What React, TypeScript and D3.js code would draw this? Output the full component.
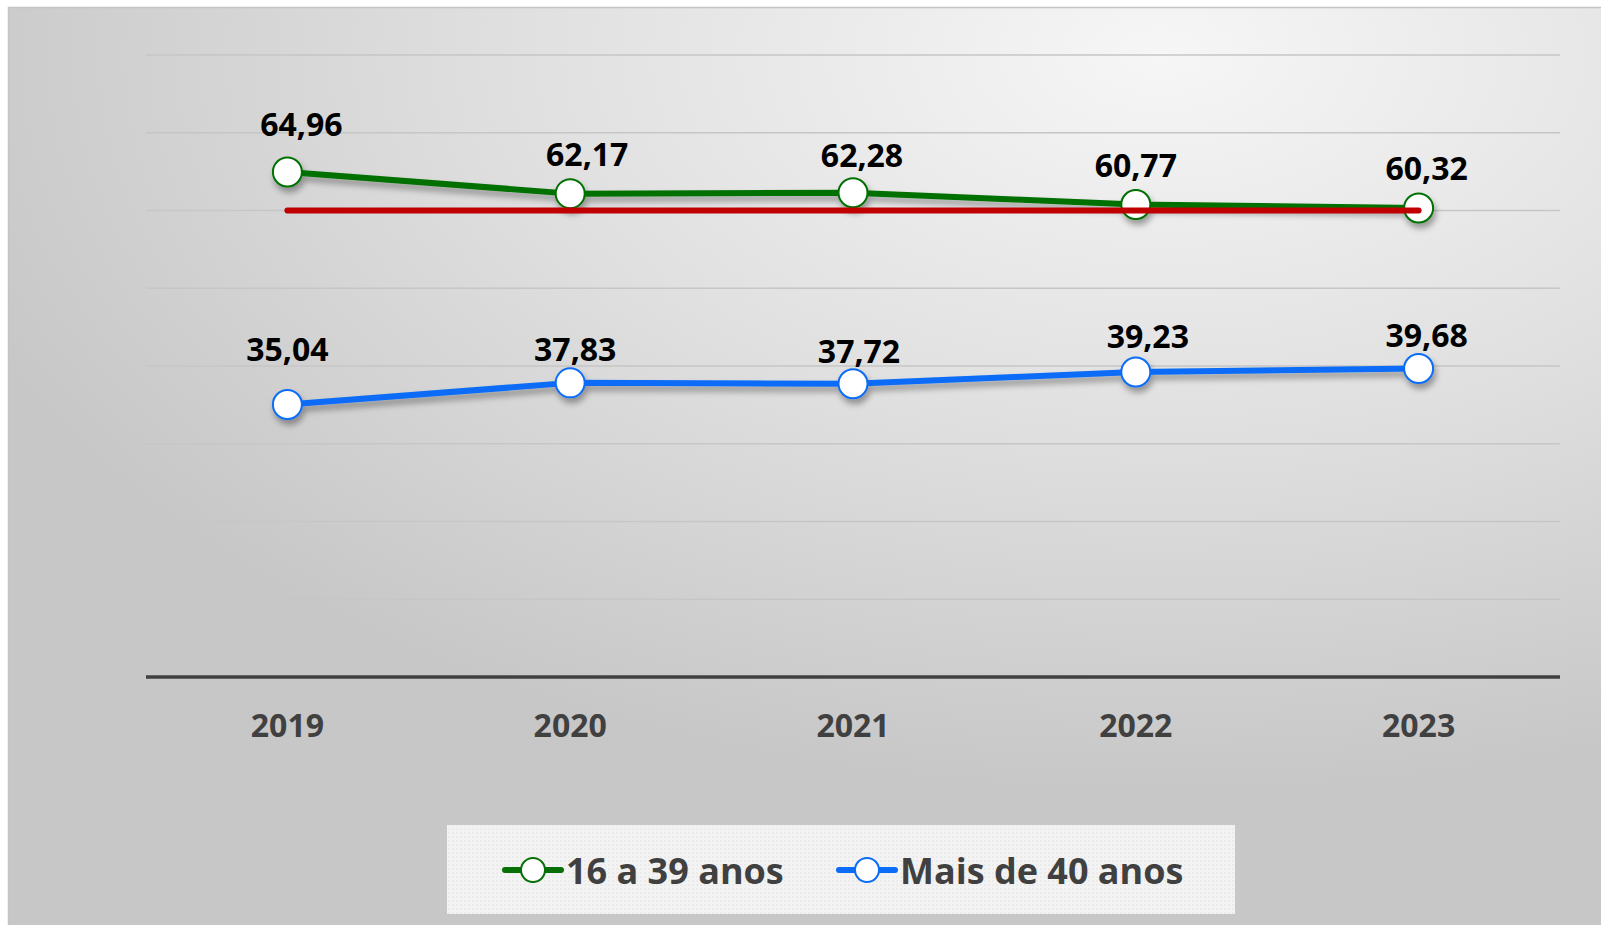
import React from 'react';
import * as d3 from 'd3';

// chart values
const years = ['2019', '2020', '2021', '2022', '2023'];
const jovens = [64.96, 62.17, 62.28, 60.77, 60.32];
const maduros = [35.04, 37.83, 37.72, 39.23, 39.68];
const meta = 60;
const seriesNames = ['16 a 39 anos', 'Mais de 40 anos'];
const gridTicks = [10, 20, 30, 40, 50, 60, 70, 80];

const W = 1601, H = 925;
const FONT = '"Open Sans", "Noto Sans", sans-serif';

// hand placed label nudges (dx, lift above point) like in the original
const labelNudge = [
    [[14, 36], [17, 28], [9, 26], [0, 28], [8, 28]],
    [[0, 44], [5, 22], [6, 21], [12, 24], [8, 21]],
];

export default function App() {
    const x = d3.scalePoint().domain(years).range([146, 1560]).padding(0.5);
    const y = d3.scaleLinear().domain([0, 80]).range([677, 55]);

    const line = d3.line<number>()
        .x((d, i) => x(years[i]) as number)
        .y(d => y(d));

    const series = [
        { name: seriesNames[0], values: jovens, color: '#067006' },
        { name: seriesNames[1], values: maduros, color: '#0a6cf7' },
    ];

    const metaLine = d3.line<string>()
        .x(d => x(d) as number)
        .y(() => y(meta));

    return (
        <svg width={W} height={H} style={{ position: 'fixed', left: 0, top: 0 }}>
            <defs>
                <radialGradient id="bg" cx="0.72" cy="0.05" r="0.8" fx="0.72" fy="0.05">
                    <stop offset="0" stopColor="#f6f6f6" />
                    <stop offset="0.5" stopColor="#e0e0e0" />
                    <stop offset="1" stopColor="#c7c7c7" />
                </radialGradient>
                <filter id="shadow" x="-10%" y="-30%" width="120%" height="160%">
                    <feDropShadow dx="2" dy="5" stdDeviation="3" floodColor="#000" floodOpacity="0.35" />
                </filter>
                <pattern id="weave" width="4" height="4" patternUnits="userSpaceOnUse">
                    <rect width="4" height="4" fill="#f3f3f3" />
                    <rect width="2" height="2" fill="#ebebeb" />
                </pattern>
            </defs>
            <rect x={0} y={0} width={W} height={H} fill="#fff" />
            <rect x={8.5} y={7.5} width={W} height={H} fill="url(#bg)" stroke="#c4c4c4" strokeWidth={1.5} />

            {/* gridlines */}
            {gridTicks.map(t => (
                <line key={t} x1={146} x2={1560} y1={y(t)} y2={y(t)} stroke="#c6c6c6" strokeWidth={1.6} />
            ))}
            {/* axis */}
            <line x1={146} x2={1560} y1={y(0)} y2={y(0)} stroke="#404040" strokeWidth={3.5} />
            {years.map(yr => (
                <text key={yr} x={x(yr)} y={737} textAnchor="middle" fontFamily={FONT}
                    fontWeight={700} fontSize={32} fill="#404040">{yr}</text>
            ))}

            {/* series */}
            <g filter="url(#shadow)">
                {series.map(s => (
                    <path key={s.name} d={line(s.values) || ''} fill="none" stroke={s.color}
                        strokeWidth={6} strokeLinejoin="round" />
                ))}
                {series.map(s => s.values.map((v, i) => (
                    <circle key={s.name + i} cx={x(years[i])} cy={y(v)} r={14.5}
                        fill="#fff" stroke={s.color} strokeWidth={2} />
                )))}
            </g>
            <path d={metaLine(years) || ''} fill="none" stroke="#c00000" strokeWidth={6} strokeLinecap="round" />

            {/* data labels */}
            {series.map((s, si) => s.values.map((v, i) => (
                <text key={'l' + s.name + i} x={(x(years[i]) as number) + labelNudge[si][i][0]}
                    y={y(v) - labelNudge[si][i][1]} textAnchor="middle" fontFamily={FONT}
                    fontWeight={700} fontSize={32} fill="#000">
                    {d3.format('.2f')(v).replace('.', ',')}
                </text>
            )))}

            {/* legend */}
            <rect x={447} y={825} width={788} height={89} fill="url(#weave)" />
            {series.map((s, i) => {
                const lx = i === 0 ? 505 : 839;
                return (
                    <g key={'lg' + s.name}>
                        <line x1={lx} x2={lx + 56} y1={870} y2={870} stroke={s.color} strokeWidth={6} strokeLinecap="round" />
                        <circle cx={lx + 28} cy={870} r={12} fill="#fff" stroke={s.color} strokeWidth={2} />
                        <text x={lx + 61} y={884} fontFamily={FONT} fontWeight={700} fontSize={36} fill="#404040">{s.name}</text>
                    </g>
                );
            })}
        </svg>
    );
}
